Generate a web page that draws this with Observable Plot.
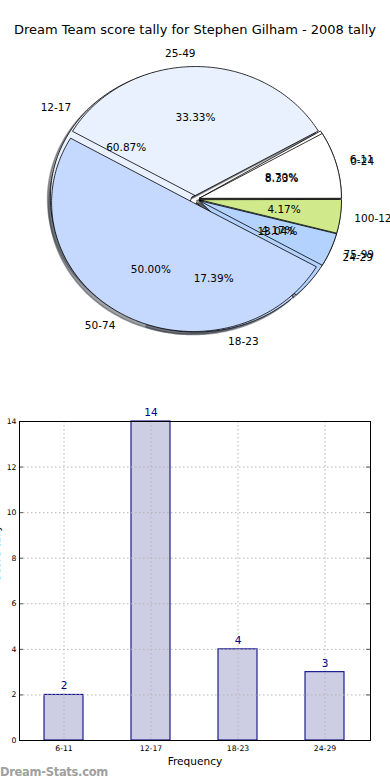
<!DOCTYPE html>
<html><head><meta charset="utf-8">
<script src="https://cdn.jsdelivr.net/npm/d3@7"></script>
<script src="https://cdn.jsdelivr.net/npm/@observablehq/plot@0.6"></script>
<style>
body{margin:0;background:#fff;font-family:"DejaVu Sans",sans-serif;}
#wrap{position:relative;width:390px;height:780px;overflow:hidden;background:#fff;}
#title{position:absolute;left:0;top:22px;width:390px;text-align:center;font-size:13px;line-height:16px;color:#000;z-index:2;}
#pie{position:absolute;left:0;top:0;}
#bar{position:absolute;left:0;top:390px;}
#wm{position:absolute;left:0;top:765px;font-size:11.5px;line-height:14px;color:#a0a0a0;font-weight:bold;letter-spacing:-0.3px;}
svg{overflow:visible;}
</style></head><body>
<div id="wrap">
<div id="pie"></div>
<div id="bar"></div>
<div id="title">Dream Team score tally for Stephen Gilham - 2008 tally</div>
<div id="wm">Dream-Stats.com</div>
</div>
<script>
// ---- data ----
const barCategories = ["6-11", "12-17", "18-23", "24-29"];
const barValues = [2, 14, 4, 3];
const scoreRanges = ["0-24", "25-49", "50-74", "75-99", "100-124"];
const scoreCounts = [2, 8, 12, 1, 1];
const yTicks = [0, 2, 4, 6, 8, 10, 12, 14];
const yLabel = "Score tally";

// ---- styles ----
const palette = ["#ffffff", "#e9f0fe", "#c5d8fe", "#b3d3fe", "#cfe98b"];
const explode = 0.03;

function wedges(labels, values, key) {
  const total = d3.sum(values);
  let cum = 0;
  return labels.map((lab, i) => {
    const a1 = cum / total * 360, a2 = (cum + values[i]) / total * 360;
    cum += values[i];
    const mid = (a1 + a2) / 2 * Math.PI / 180;
    return {key: key + i, i, label: lab, pct: values[i] / total * 100, a1, a2, mid,
            ox: explode * Math.cos(mid), oy: explode * Math.sin(mid)};
  });
}
function shade(c) {
  const r = d3.rgb(c);
  return d3.rgb(r.r * 0.3, r.g * 0.3, r.b * 0.3).formatHex();
}
function outline(w, dx, dy, shadow) {
  const col = shadow ? shade(palette[w.i % palette.length]) : palette[w.i % palette.length];
  const pts = [{key: w.key, color: col, x: w.ox + dx, y: w.oy + dy}];
  const n = Math.max(2, Math.ceil(w.a2 - w.a1));
  for (let k = 0; k <= n; k++) {
    const a = (w.a1 + (w.a2 - w.a1) * k / n) * Math.PI / 180;
    pts.push({key: w.key, color: col, x: w.ox + dx + Math.cos(a), y: w.oy + dy + Math.sin(a)});
  }
  return pts;
}
const pie1 = wedges(barCategories, barValues, "a");
const pie2 = wedges(scoreRanges, scoreCounts, "b");
const shadowPts = [...pie1, ...pie2].flatMap(w => outline(w, -0.02, -0.02, true));
const pie1Pts = pie1.flatMap(w => outline(w, 0, 0, false));
const pie2Pts = pie2.flatMap(w => outline(w, 0, 0, false));
const allW = [...pie1, ...pie2];
const pctRows = allW.map(w => ({x: w.ox + 0.6 * Math.cos(w.mid), y: w.oy + 0.6 * Math.sin(w.mid), t: d3.format(".2f")(w.pct) + "%"}));
const labRows = allW.map(w => ({x: w.ox + 1.1 * Math.cos(w.mid), y: w.oy + 1.1 * Math.sin(w.mid), t: w.label, right: Math.cos(w.mid) > 1e-9}));

const cx = 195, cy = 198.8, rx = 141.8, ry = 128.9;
const pie = Plot.plot({
  width: 390, height: 390, margin: 0,
  x: {domain: [-1, 1], range: [cx - rx, cx + rx], axis: null},
  y: {domain: [-1, 1], range: [cy + ry, cy - ry], axis: null},
  color: {type: "identity"},
  style: {fontFamily: "DejaVu Sans", fontSize: "10.5px", background: "transparent", overflow: "visible"},
  marks: [
    Plot.line(shadowPts, {x: "x", y: "y", z: "key", fill: "color", stroke: "color", fillOpacity: 0.5, strokeOpacity: 0.5, curve: "linear-closed"}),
    Plot.line(pie1Pts, {x: "x", y: "y", z: "key", fill: "color", stroke: "black", strokeWidth: 0.8, strokeLinejoin: "round", curve: "linear-closed"}),
    Plot.line(pie2Pts, {x: "x", y: "y", z: "key", fill: "color", stroke: "black", strokeWidth: 0.8, strokeLinejoin: "round", curve: "linear-closed"}),
    Plot.text(pctRows, {x: "x", y: "y", text: "t", fill: "black"}),
    Plot.text(labRows.filter(d => d.right), {x: "x", y: "y", text: "t", textAnchor: "start", fill: "black"}),
    Plot.text(labRows.filter(d => !d.right), {x: "x", y: "y", text: "t", textAnchor: "end", fill: "black"})
  ]
});
document.getElementById("pie").append(pie);

const barData = barCategories.map((c, i) => ({cat: c, value: barValues[i]}));
const gridCol = "#b5b5b5";
const bar = Plot.plot({
  width: 390, height: 390, marginTop: 31, marginBottom: 40, marginLeft: 19, marginRight: 20,
  x: {type: "band", domain: barCategories, paddingInner: 0.55, paddingOuter: 0.275, axis: null},
  y: {domain: [0, 14], axis: null},
  style: {fontFamily: "DejaVu Sans", fontSize: "7.7px", background: "transparent", overflow: "visible"},
  marks: [
    Plot.barY(barData, {x: "cat", y: "value", fill: "#cdcde4", stroke: "#0c0c88", strokeWidth: 1.1}),
    Plot.ruleY(yTicks, {y: d => d, stroke: gridCol, strokeDasharray: "1.5,2.5"}),
    Plot.ruleX(barCategories, {x: d => d, stroke: gridCol, strokeDasharray: "1.5,2.5"}),
    Plot.tickY(yTicks, {y: d => d, insetRight: 347, stroke: "#555"}),
    Plot.tickY(yTicks, {y: d => d, insetLeft: 347, stroke: "#555"}),
    Plot.frame({stroke: "black", strokeWidth: 1}),
    Plot.axisY({ticks: yTicks, tickSize: 0, tickPadding: 3, label: null}),
    Plot.axisX({tickSize: 0, tickPadding: 5, label: null}),
    Plot.text(barData, {x: "cat", y: "value", text: d => String(d.value), dy: -9, fill: "#00008b", fontSize: 10.5}),
    Plot.text(["Frequency"], {frameAnchor: "bottom", dy: 21, lineAnchor: "middle", text: d => d, fontSize: 10.6, fill: "black"}),
    Plot.text([yLabel], {frameAnchor: "left", dx: -23, rotate: -90, text: d => d, fontSize: 10.6, fill: "black"})
  ]
});
document.getElementById("bar").append(bar);
</script>
</body></html>
